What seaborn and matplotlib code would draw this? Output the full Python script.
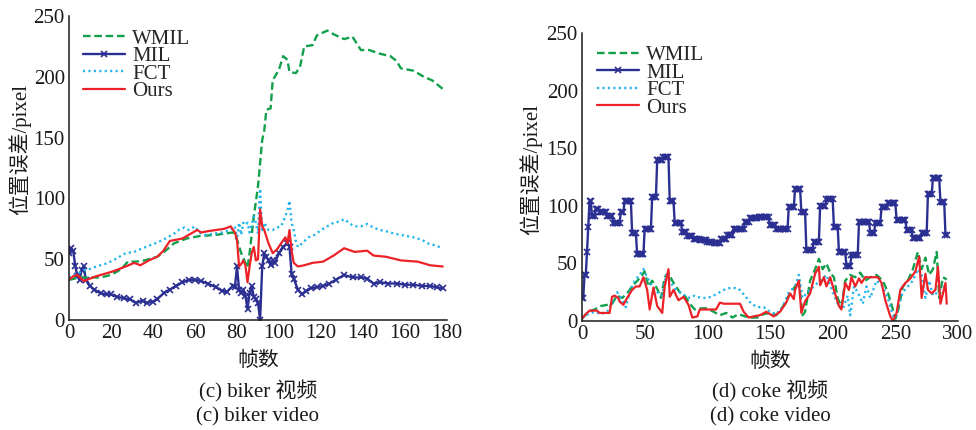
import numpy as np
import pandas as pd
import matplotlib
matplotlib.use("Agg")
import matplotlib.pyplot as plt
import seaborn as sns

# ---------------- data: biker ----------------
biker_wmil_f = [0,5,10,15,20,25,28,32,36,42,46,50,56,62,70,78,80,82,84,85,86,88,90,92,93,94,96,97,100,102,104,105,108,110,112,116,118,123,126,131,135,139,143,148,153,156,158,164,169,173,178]
biker_wmil_v = [33,35,35,35,37,42,48,48,49,52,57,63,67,69,70,72,66,55,47,43,55,85,110,148,156,173,174,197,206,217,214,204,203,208,225,226,234,238,235,231,233,222,222,219,217,213,207,205,200,197,190]

biker_fct_f = [0,4,7,10,13,17,21,24,27,31,35,38,41,45,50,53,55,57,60,62,65,69,73,77,79,80,81,82,83,84,85,86,88,89,90,91,92,93,95,97,99,101,103,104,105,106,107,108,109,111,114,117,120,123,126,129,131,134,136,139,142,145,148,151,155,158,161,164,168,171,175,178]
biker_fct_v = [35,38,41,42,44,46,49,52,55,56,59,61,63,66,71,75,76,74,77,72,70,71,72,74,77,66,80,70,80,78,80,72,85,80,71,108,74,80,74,74,76,77,85,90,98,80,74,65,60,63,68,70,74,77,80,81,83,79,77,77,79,76,74,73,71,70,69,68,66,63,61,59]

biker_ours_f = [0,2,4,7,10,13,17,21,24,27,31,34,38,42,45,48,51,54,57,61,63,66,70,74,77,79,80,81,82,83,84,85,86,87,88,89,90,91,92,93,95,97,99,101,103,104,105,106,107,109,112,116,121,126,131,136,142,145,151,158,166,172,178]
biker_ours_v = [33,36,37,32,34,36,38,40,42,44,47,45,49,52,57,65,66,67,70,74,72,73,74,75,77,72,66,44,46,49,45,31,44,55,60,49,50,91,77,74,63,55,58,63,68,63,74,57,47,44,45,47,48,53,59,56,57,53,52,49,48,45,44]

biker_mil_f = [0,1,2,3,4,5,6,7,8,10,12,15,18,20,23,26,29,32,35,37,40,42,45,48,51,54,57,60,63,66,70,73,75,78,79,80,81,82,83,84,85,86,87,88,89,90,91,92,93,94,95,96,97,98,100,102,104,105,106,107,109,111,113,115,118,121,124,127,131,135,139,142,145,148,152,156,160,164,168,172,175,178]
biker_mil_v = [55,59,57,44,36,33,41,44,33,28,25,22,21,21,19,18,17,14,16,14,15,17,22,25,28,31,33,33,32,30,27,24,23,28,27,44,25,22,25,20,9,22,28,19,17,14,0,44,55,52,49,45,49,47,55,60,63,60,38,34,25,21,24,26,27,28,30,33,37,35,35,34,30,31,30,30,29,29,28,28,27,26]

# ---------------- data: coke ----------------
coke_ours_f = [0,3,6,12,14,22,24,26,29,30,33,36,40,43,46,49,52,54,57,60,64,66,69,70,73,77,81,85,88,92,94,98,107,110,113,126,129,133,137,142,147,153,158,163,166,169,170,173,175,178,182,186,189,190,193,195,198,201,205,207,210,213,215,218,221,223,226,236,239,242,246,248,251,254,258,262,266,269,271,274,276,279,282,284,286,290,291]
coke_ours_v = [2,6,9,9,7,7,21,22,20,17,14,20,27,30,30,38,27,10,29,13,7,30,45,21,27,18,21,14,3,4,10,10,10,16,15,15,8,3,4,5,8,4,8,16,24,19,27,35,7,17,24,41,47,31,38,30,38,27,13,10,33,27,38,30,37,33,38,38,33,18,4,0,7,27,33,37,43,56,20,41,27,24,27,47,15,33,15]

coke_wmil_f = [0,5,10,15,20,24,28,32,36,40,45,48,50,53,56,60,63,66,69,72,75,78,82,86,90,95,100,105,110,115,120,125,130,135,140,145,150,155,160,165,170,173,176,178,182,186,189,192,195,198,201,204,207,210,214,218,222,226,230,235,240,244,248,250,252,256,260,264,268,271,274,277,280,283,285,288,291]
coke_wmil_v = [2,8,10,13,14,15,22,20,24,30,36,40,43,30,35,28,20,38,42,35,30,25,22,15,10,11,11,8,5,7,3,6,4,3,3,6,7,5,12,22,30,35,5,8,35,45,54,45,50,42,38,20,12,35,40,38,42,35,38,40,35,25,10,2,8,30,35,45,60,45,55,40,45,60,20,38,36]

coke_fct_f = [0,5,10,15,20,25,28,32,35,38,42,46,49,52,56,60,64,67,70,74,78,82,86,90,95,100,105,110,115,120,125,130,135,140,145,150,155,160,165,170,173,176,180,185,190,195,200,204,208,212,214,217,220,224,227,230,235,240,244,248,250,253,256,260,264,268,271,274,277,280,284,288,291]
coke_fct_v = [3,6,8,6,8,18,25,18,12,25,35,40,45,38,30,25,22,40,35,28,25,22,20,22,20,20,22,25,28,29,28,22,15,12,12,8,6,12,25,30,40,20,25,30,35,40,25,15,10,22,5,30,25,15,30,20,35,30,20,5,0,15,25,30,35,45,40,20,35,22,25,30,28]

# MIL on coke is piecewise constant: start frame of each step and its level
coke_mil_starts = [0,2,4,5,6,8,11,14,20,25,31,34,40,44,50,56,60,65,70,74,80,84,89,94,100,105,111,116,121,130,134,141,150,155,165,170,175,179,185,190,195,201,205,211,215,221,230,234,239,244,251,259,264,271,276,280,286,290]
coke_mil_levels = [20,40,60,82,104,91,97,95,91,85,95,104,76,58,80,108,140,142,104,85,77,74,71,70,69,68,71,75,80,86,89,90,83,80,99,115,95,62,69,100,106,82,60,48,57,86,76,85,99,102,88,79,72,76,110,124,103,75]
coke_mil_end = 292

labels = ["WMIL", "MIL", "FCT", "Ours"]
x_ticks_biker = [0,20,40,60,80,100,120,140,160,180]
x_ticks_coke = [0,50,100,150,200,250,300]
y_ticks = [0,50,100,150,200,250]

# ---------------- style ----------------
sns.set_style("white")
plt.rcParams["font.family"] = ["Liberation Serif", "Noto Sans CJK SC"]
plt.rcParams["font.size"] = 15
plt.rcParams["axes.unicode_minus"] = False

C_WMIL = "#12a04c"
C_MIL = "#2b2f92"
C_FCT = "#22b4ec"
C_OURS = "#ec2228"
TXT = "#1a1a1a"

fig = plt.figure(figsize=(9.76, 4.30), dpi=100)
axL = fig.add_axes([69/976, 1-320/430, 378/976, 304/430])
axR = fig.add_axes([582/976, 1-321/430, 376/976, 288/430])


def draw(ax, wf, wv, mf, mv, ff, fv, of, ov, msize, anchor):
    sns.lineplot(x=mf, y=mv, ax=ax, color=C_MIL, lw=1.7, marker="x",
                 markersize=msize, markeredgewidth=1.2, markeredgecolor=C_MIL,
                 estimator=None, sort=False, label="MIL", legend=False)
    sns.lineplot(x=wf, y=wv, ax=ax, color=C_WMIL, lw=1.7, estimator=None, sort=False,
                 label="WMIL", legend=False, dashes=False)
    sns.lineplot(x=ff, y=fv, ax=ax, color=C_FCT, lw=1.7, estimator=None, sort=False,
                 label="FCT", legend=False, dashes=False)
    sns.lineplot(x=of, y=ov, ax=ax, color=C_OURS, lw=1.6, estimator=None, sort=False,
                 label="Ours", legend=False, dashes=False)
    lines = ax.get_lines()
    lines[1].set_dashes([3.2, 1.6])
    lines[2].set_dashes([0.9, 1.4])
    handles = {l.get_label(): l for l in lines}
    ax.legend([handles[k] for k in labels], labels, loc="upper left",
              frameon=False, fontsize=15, handlelength=2.0, handletextpad=0.35,
              labelspacing=-0.1, borderaxespad=0.0, borderpad=0.4,
              bbox_to_anchor=anchor)


draw(axL, biker_wmil_f, biker_wmil_v, biker_mil_f, biker_mil_v,
     biker_fct_f, biker_fct_v, biker_ours_f, biker_ours_v, 4.5, (0.015, 0.984))

durations = np.diff(coke_mil_starts + [coke_mil_end])
mil_coke_v = np.repeat(coke_mil_levels, durations)
mil_coke_f = np.arange(len(mil_coke_v))
draw(axR, coke_wmil_f, coke_wmil_v, mil_coke_f, mil_coke_v,
     coke_fct_f, coke_fct_v, coke_ours_f, coke_ours_v, 3.8, (0.018, 0.985))

for ax, xt, xmax in [(axL, x_ticks_biker, 180), (axR, x_ticks_coke, 300)]:
    ax.set_xlim(0, xmax)
    ax.set_ylim(0, 250)
    ax.set_xticks(xt)
    ax.set_yticks(y_ticks)
    ax.tick_params(direction="in", length=5, width=1, labelsize=15, pad=3, colors=TXT)
    for s in ["top", "right"]:
        ax.spines[s].set_visible(False)
    for s in ["left", "bottom"]:
        ax.spines[s].set_color(TXT)
        ax.spines[s].set_linewidth(1.1)
    ax.set_xlabel("帧数", fontsize=15, color=TXT)
    ax.set_ylabel("位置误差/pixel", fontsize=15, color=TXT)

axL.xaxis.set_label_coords(0.5, -0.105)
axR.xaxis.set_label_coords(0.5, -0.11)
axL.yaxis.set_label_coords(-0.10, 0.56)
axR.yaxis.set_label_coords(-0.105, 0.525)

fig.text(258/976, 1-391/430, "(c) biker 视频", ha="center", va="center", fontsize=15, color=TXT)
fig.text(258/976, 1-417/430, "(c) biker video", ha="center", va="center", fontsize=15, color=TXT)
fig.text(770/976, 1-391/430, "(d) coke 视频", ha="center", va="center", fontsize=15, color=TXT)
fig.text(770/976, 1-417/430, "(d) coke video", ha="center", va="center", fontsize=15, color=TXT)

fig.savefig("out.png", dpi=100)
